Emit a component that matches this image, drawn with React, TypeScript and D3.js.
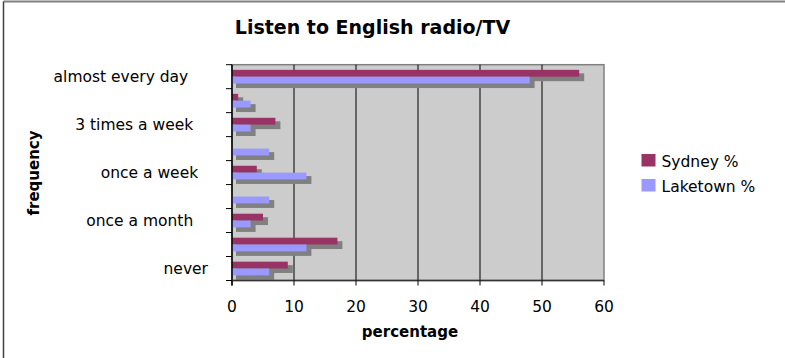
import React from "react";
import * as d3 from "d3";

const categories = [
  "almost every day",
  "",
  "3 times a week",
  "",
  "once a week",
  "",
  "once a month",
  "",
  "never",
];
const categoryLabels = [
  "almost every day    ",
  "",
  "3 times a week   ",
  "",
  "once a week  ",
  "",
  "once a month   ",
  "",
  "never",
];
const sydney = [56, 1, 7, 0, 4, 0, 5, 17, 9];
const laketown = [48, 3, 3, 6, 12, 6, 3, 12, 6];
const seriesNames = ["Sydney %", "Laketown %"];
const seriesColors = ["#993366", "#9999ff"];
const xTicks = [0, 10, 20, 30, 40, 50, 60];

const W = 785;
const H = 358;
const plot = { left: 232, right: 604, top: 64.7, bottom: 280.5 };
const FONT = "Verdana, 'DejaVu Sans', sans-serif";

export default function App() {
  const x = d3.scaleLinear().domain([0, 60]).range([plot.left, plot.right]);
  const idx = categories.map((_, i) => i);
  const y = d3.scaleBand<number>().domain(idx).range([plot.top, plot.bottom]).padding(0);
  const inner = d3
    .scaleBand<number>()
    .domain([0, 1])
    .range([0, y.bandwidth()])
    .paddingInner(0)
    .paddingOuter(0.75);
  const series = [sydney, laketown];
  const bars: { s: number; i: number; v: number }[] = [];
  series.forEach((vals, s) => vals.forEach((v, i) => bars.push({ s, i, v })));
  const visible = bars.filter((b) => b.v > 0);
  const bh = inner.bandwidth();

  return (
    <svg
      width={W}
      height={H}
      style={{ position: "absolute", left: 0, top: 0, background: "#fff" }}
      fontFamily={FONT}
    >
      <rect x={0} y={0} width={W} height={H} fill="#fff" />
      {/* outer chart border */}
      <line x1={3.5} y1={1.5} x2={W} y2={1.5} stroke="#808080" strokeWidth={2} />
      <line x1={3.5} y1={1.5} x2={3.5} y2={H} stroke="#404040" strokeWidth={1.5} />

      {/* title */}
      <text x={372.5} y={34} textAnchor="middle" fontSize={19} fontWeight="bold" fill="#000">
        Listen to English radio/TV
      </text>

      {/* plot area */}
      <rect
        x={plot.left}
        y={plot.top}
        width={plot.right - plot.left}
        height={plot.bottom - plot.top}
        fill="#cccccc"
        stroke="#808080"
        strokeWidth={1.5}
      />
      {xTicks
        .filter((t) => t > 0 && t < 60)
        .map((t) => (
          <line
            key={"g" + t}
            x1={x(t)}
            x2={x(t)}
            y1={plot.top}
            y2={plot.bottom}
            stroke="#000"
            strokeWidth={1}
          />
        ))}

      {/* shadows */}
      {visible.map((b) => (
        <rect
          key={"sh" + b.s + "-" + b.i}
          x={x(0) + 4}
          y={(y(b.i) as number) + (inner(b.s) as number) + 3.5}
          width={x(b.v) - x(0) + 1}
          height={bh + 1}
          fill="#808080"
        />
      ))}
      {/* bars */}
      {visible.map((b) => (
        <rect
          key={"b" + b.s + "-" + b.i}
          x={x(0)}
          y={(y(b.i) as number) + (inner(b.s) as number)}
          width={x(b.v) - x(0)}
          height={bh}
          fill={seriesColors[b.s]}
        />
      ))}

      {/* y axis */}
      <line x1={plot.left} x2={plot.left} y1={plot.top} y2={plot.bottom + 5} stroke="#000" strokeWidth={1.5} />
      {d3.range(categories.length + 1).map((k) => {
        const yy = plot.top + k * y.step();
        return <line key={"yt" + k} x1={plot.left - 6} x2={plot.left} y1={yy} y2={yy} stroke="#000" strokeWidth={1} />;
      })}
      {categories.map((c, i) =>
        c ? (
          <text
            key={"yl" + i}
            x={208}
            y={(y(i) as number) + y.bandwidth() / 2 + 5.5}
            textAnchor="end"
            fontSize={15.5}
            fill="#000"
            style={{ whiteSpace: "pre" }}
            xmlSpace="preserve"
          >
            {categoryLabels[i]}
          </text>
        ) : null
      )}

      {/* x axis */}
      <line x1={plot.left} x2={plot.right} y1={plot.bottom} y2={plot.bottom} stroke="#333" strokeWidth={1.5} />
      {xTicks.map((t) => (
        <g key={"xt" + t}>
          <line x1={x(t)} x2={x(t)} y1={plot.bottom} y2={plot.bottom + 5} stroke="#000" strokeWidth={1} />
          <text x={x(t)} y={311.5} textAnchor="middle" fontSize={15.5} fill="#000">
            {t}
          </text>
        </g>
      ))}

      {/* axis titles */}
      <text x={410} y={337} textAnchor="middle" fontSize={15} fontWeight="bold" fill="#000">
        percentage
      </text>
      <text
        transform="translate(39,173) rotate(-90)"
        textAnchor="middle"
        fontSize={15}
        fontWeight="bold"
        fill="#000"
      >
        frequency
      </text>

      {/* legend */}
      {seriesNames.map((n, i) => (
        <g key={"lg" + i} transform={`translate(641.5, ${154 + i * 25})`}>
          <rect x={0} y={0} width={14} height={12.5} fill={seriesColors[i]} />
          <text x={20} y={12.5} fontSize={15.5} fill="#000">
            {n}
          </text>
        </g>
      ))}
    </svg>
  );
}
